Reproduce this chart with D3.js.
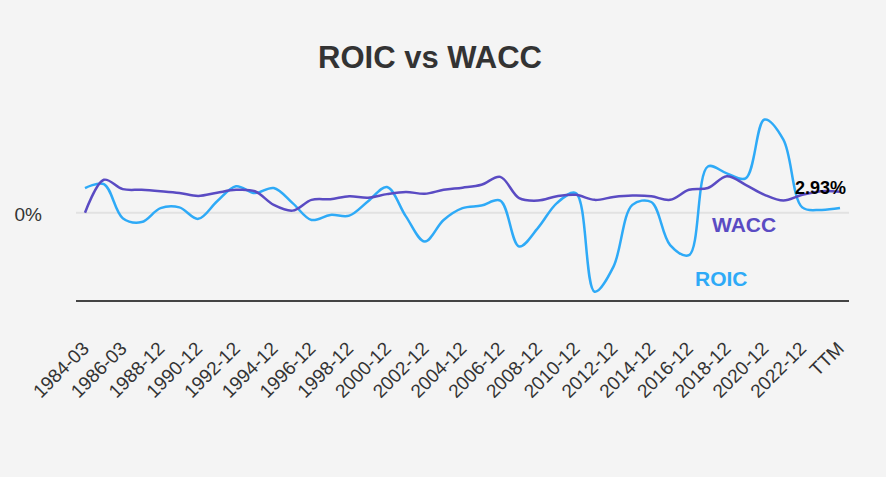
<!DOCTYPE html>
<html>
<head>
<meta charset="utf-8">
<script src="https://cdn.jsdelivr.net/npm/d3@7"></script>
<style>
  body { margin: 0; background: #f4f4f4; }
  svg { font-family: "Liberation Sans", Arial, sans-serif; }
</style>
</head>
<body>
<div id="chart"></div>
<script>
var width = 886, height = 477;

// fiscal periods
var years = ["1984-03", "1985-03", "1986-03", "1987-03"];
for (var y = 1988; y <= 2023; y++) years.push(y + "-12");
years.push("TTM");

// percent values
var roic = [3.45, 4.0, -0.75, -1.3, 0.65, 0.75, -0.85, 1.6, 3.7, 2.75,
            3.45, 1.35, -1.0, -0.3, -0.4, 1.6, 3.6, -0.5, -4.0, -1.0,
            0.65, 1.0, 1.7, -4.7, -2.1, 1.35, 2.75, -11.0, -7.5, 1.1,
            1.5, -4.5, -5.9, 6.45, 5.5, 4.8, 13.0, 10.2, 0.75, 0.4, 0.65];
var wacc = [0, 4.6, 3.3, 3.2, 3.0, 2.75, 2.35, 2.8, 3.2, 3.0,
            1.1, 0.3, 1.8, 1.9, 2.3, 2.1, 2.6, 2.9, 2.65, 3.2,
            3.5, 3.9, 5.0, 2.05, 1.7, 2.3, 2.5, 1.8, 2.2, 2.4,
            2.3, 1.8, 3.2, 3.45, 5.1, 3.9, 2.5, 1.7, 2.5, 3.0, 2.93];

var svg = d3.select("#chart").append("svg")
    .attr("width", width)
    .attr("height", height);

svg.append("rect")
    .attr("width", width)
    .attr("height", height)
    .attr("fill", "#f4f4f4");

svg.append("text")
    .attr("x", 430)
    .attr("y", 68)
    .attr("text-anchor", "middle")
    .attr("font-size", 31)
    .attr("font-weight", "bold")
    .attr("fill", "#333")
    .text("ROIC vs WACC");

var x = d3.scalePoint()
    .domain(years)
    .range([85, 840]);

var yScale = d3.scaleLinear()
    .domain([-12.3, 16])
    .range([301, 98]);

// zero line
svg.append("line")
    .attr("x1", 76).attr("x2", 849)
    .attr("y1", yScale(0)).attr("y2", yScale(0))
    .attr("stroke", "#e2e2e2")
    .attr("stroke-width", 2);

svg.append("text")
    .attr("x", 42)
    .attr("y", yScale(0))
    .attr("dy", "0.45em")
    .attr("text-anchor", "end")
    .attr("font-size", 19)
    .attr("fill", "#333")
    .text("0%");

// bottom axis
var xAxis = d3.axisBottom(x)
    .tickSize(0)
    .tickFormat(function(d, i) { return i % 2 == 0 ? d : ""; });

var gx = svg.append("g")
    .attr("transform", "translate(0,301)")
    .call(xAxis);

gx.select(".domain")
    .attr("d", "M76,0H849")
    .attr("stroke", "#444")
    .attr("stroke-width", 2);

gx.selectAll(".tick text")
    .attr("font-size", 19)
    .attr("font-family", "Liberation Sans, Arial, sans-serif")
    .attr("fill", "#333")
    .attr("text-anchor", "end")
    .attr("dy", "0.35em")
    .attr("transform", "translate(0,44) rotate(-45)")
    .attr("y", 0);

var line = d3.line()
    .x(function(d, i) { return x(years[i]); })
    .y(function(d) { return yScale(d); })
    .curve(d3.curveCatmullRom.alpha(0.5));

svg.append("path")
    .datum(roic)
    .attr("fill", "none")
    .attr("stroke", "#2eaaf7")
    .attr("stroke-width", 2.5)
    .attr("d", line);

svg.append("path")
    .datum(wacc)
    .attr("fill", "none")
    .attr("stroke", "#5a4bc3")
    .attr("stroke-width", 2.5)
    .attr("d", line);

svg.append("text")
    .attr("x", 712)
    .attr("y", 232)
    .attr("font-size", 21)
    .attr("font-weight", "bold")
    .attr("fill", "#5a4bc3")
    .text("WACC");

svg.append("text")
    .attr("x", 695)
    .attr("y", 286)
    .attr("font-size", 21)
    .attr("font-weight", "bold")
    .attr("fill", "#2eaaf7")
    .text("ROIC");

svg.append("text")
    .attr("x", 846)
    .attr("y", yScale(wacc[wacc.length - 1]))
    .attr("dy", "0.15em")
    .attr("text-anchor", "end")
    .attr("font-size", 18)
    .attr("font-weight", "bold")
    .attr("fill", "#000")
    .text("2.93%");
</script>
</body>
</html>
